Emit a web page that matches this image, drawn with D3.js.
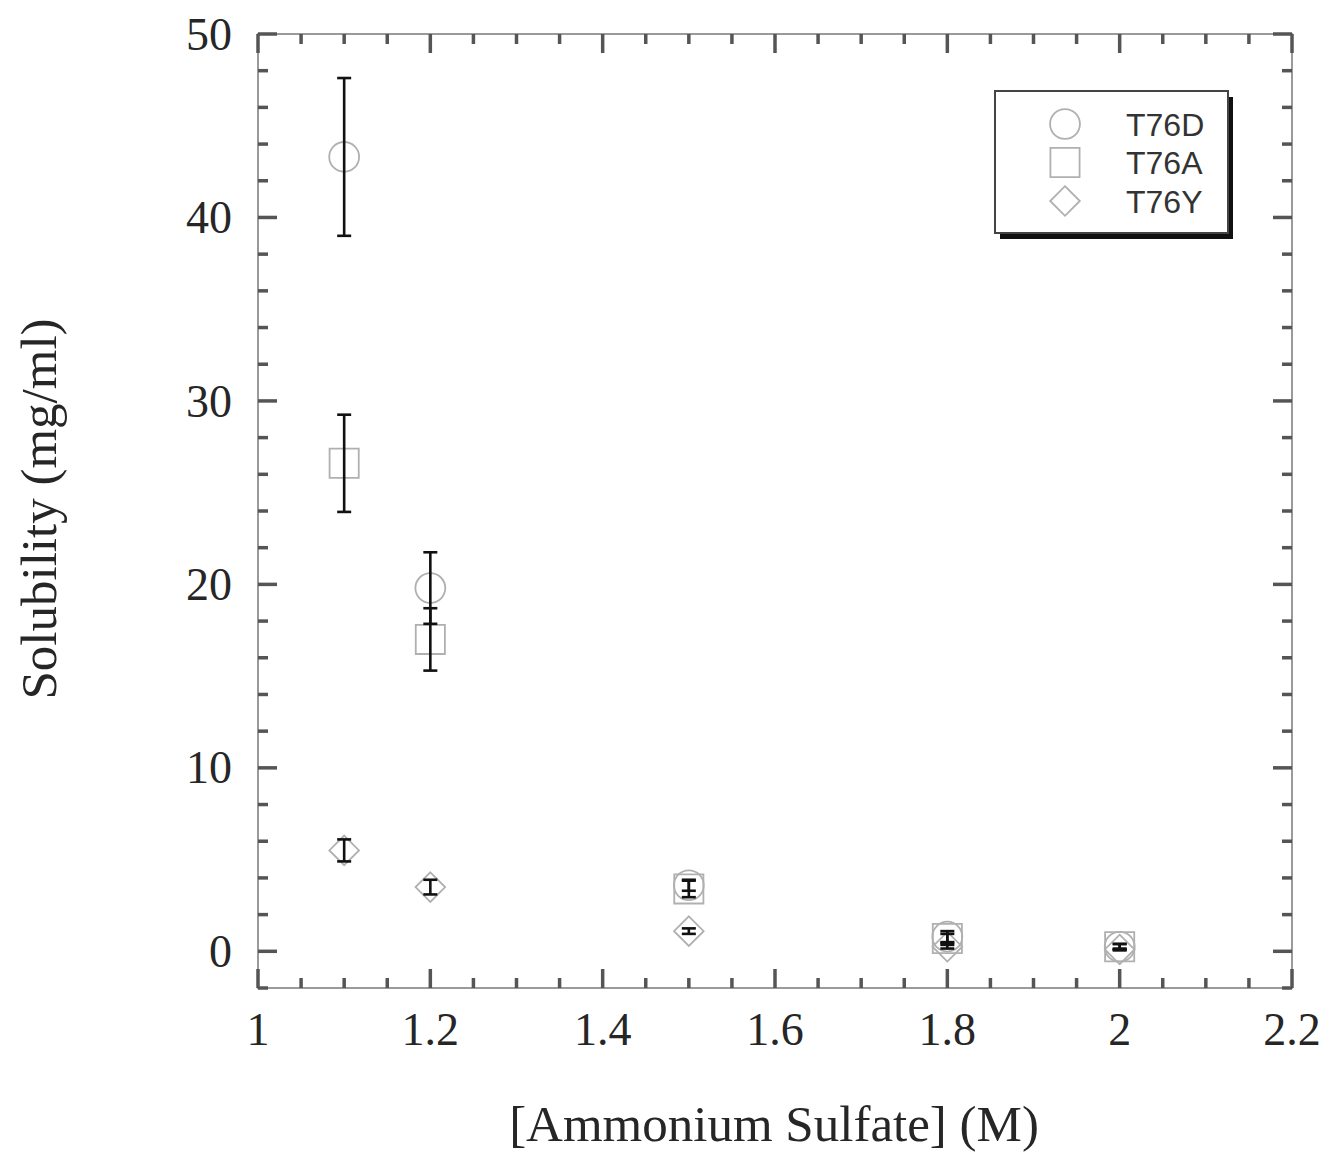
<!DOCTYPE html>
<html>
<head>
<meta charset="utf-8">
<script src="https://cdn.jsdelivr.net/npm/d3@7"></script>
<style>
  body { margin: 0; background: #fff; }
  svg { display: block; }
</style>
</head>
<body>
<div class="chart"></div>
<script>
// salt concentrations (M)
const conc = [1.1, 1.2, 1.5, 1.8, 2.0]

const t76d = [43.3, 19.8, 3.6, 0.8, 0.25]
const t76dErr = [4.3, 1.95, 0.3, 0.3, 0.15]

const t76a = [26.6, 17.0, 3.4, 0.7, 0.25]
const t76aErr = [2.65, 1.7, 0.45, 0.25, 0.15]

const t76y = [5.5, 3.5, 1.1, 0.25, 0.1]
const t76yErr = [0.6, 0.4, 0.15, 0.1, 0.05]

const xTicks = [1, 1.2, 1.4, 1.6, 1.8, 2, 2.2]
const yTicks = [0, 10, 20, 30, 40, 50]

const series = [
  {name: 'T76D', shape: d3.symbolCircle, y: t76d, err: t76dErr},
  {name: 'T76A', shape: d3.symbolSquare, y: t76a, err: t76aErr},
  {name: 'T76Y', shape: d3.symbolDiamond2, y: t76y, err: t76yErr}
]

const width = 1341
const height = 1156
const m = {left: 258, right: 1292, top: 34, bottom: 988}

const svg = d3.select('.chart').append('svg').attr('width', width).attr('height', height)

const x = d3.scaleLinear().domain([1, 2.2]).range([m.left, m.right])
const y = d3.scaleLinear().domain([-2, 50]).range([m.bottom, m.top])

const serif = 'Liberation Serif, Times New Roman, serif'
const axisCol = '#9a9a9a'
const tickCol = '#555'
const textCol = '#262626'

// frame
svg.append('rect')
  .attr('x', m.left).attr('y', m.top)
  .attr('width', m.right - m.left).attr('height', m.bottom - m.top)
  .attr('fill', 'none').attr('stroke', axisCol).attr('stroke-width', 2)

// inward ticks on all four sides
const xMinor = d3.range(1, 2.2001, 0.05)
const yMinor = d3.range(-2, 50.001, 2)

function isMajor(v, step) { return Math.abs(v / step - Math.round(v / step)) < 1e-6 }

const tg = svg.append('g').attr('stroke', tickCol).attr('stroke-width', 3.5)
xMinor.forEach(v => {
  const len = isMajor(v, 0.2) ? 19 : 10
  tg.append('line').attr('x1', x(v)).attr('x2', x(v)).attr('y1', m.bottom).attr('y2', m.bottom - len)
  tg.append('line').attr('x1', x(v)).attr('x2', x(v)).attr('y1', m.top).attr('y2', m.top + len)
})
yMinor.forEach(v => {
  const len = isMajor(v, 10) ? 19 : 10
  tg.append('line').attr('y1', y(v)).attr('y2', y(v)).attr('x1', m.left).attr('x2', m.left + len)
  tg.append('line').attr('y1', y(v)).attr('y2', y(v)).attr('x1', m.right).attr('x2', m.right - len)
})

// tick labels
svg.append('g').selectAll('text').data(xTicks).join('text')
  .attr('x', d => x(d)).attr('y', m.bottom + 57)
  .attr('text-anchor', 'middle')
  .attr('font-family', serif).attr('font-size', 46).attr('fill', textCol)
  .text(d => d)

svg.append('g').selectAll('text').data(yTicks).join('text')
  .attr('x', m.left - 26).attr('y', d => y(d))
  .attr('dy', '0.34em')
  .attr('text-anchor', 'end')
  .attr('font-family', serif).attr('font-size', 46).attr('fill', textCol)
  .text(d => d)

// axis titles
svg.append('text')
  .attr('x', 774).attr('y', 1141)
  .attr('text-anchor', 'middle')
  .attr('font-family', serif).attr('font-size', 51).attr('fill', textCol)
  .text('[Ammonium Sulfate] (M)')

svg.append('text')
  .attr('transform', 'translate(56,509) rotate(-90)')
  .attr('text-anchor', 'middle')
  .attr('font-family', serif).attr('font-size', 51).attr('fill', textCol)
  .text('Solubility (mg/ml)')

// markers
const symSize = {T76D: 700, T76A: 850, T76Y: 560}
series.forEach(s => {
  const pts = conc.map((c, i) => ({x: c, y: s.y[i]}))
  svg.append('g').selectAll('path').data(pts).join('path')
    .attr('transform', d => `translate(${x(d.x)},${y(d.y)})`)
    .attr('d', d3.symbol().type(s.shape).size(symSize[s.name]))
    .attr('fill', 'none').attr('stroke', '#b0b0b0').attr('stroke-width', 1.8)
})

// error bars
const cap = 7
series.forEach(s => {
  const eb = svg.append('g').attr('stroke', '#111').attr('stroke-width', 2.6)
  conc.forEach((c, i) => {
    const x0 = x(c)
    const lo = y(s.y[i] - s.err[i])
    const hi = y(s.y[i] + s.err[i])
    eb.append('line').attr('x1', x0).attr('x2', x0).attr('y1', lo).attr('y2', hi)
    eb.append('line').attr('x1', x0 - cap).attr('x2', x0 + cap).attr('y1', lo).attr('y2', lo)
    eb.append('line').attr('x1', x0 - cap).attr('x2', x0 + cap).attr('y1', hi).attr('y2', hi)
  })
})

// legend
const lg = svg.append('g')
lg.append('rect').attr('x', 1000).attr('y', 97).attr('width', 233).attr('height', 142).attr('fill', '#111')
lg.append('rect').attr('x', 995).attr('y', 91).attr('width', 233).attr('height', 142)
  .attr('fill', '#fff').attr('stroke', '#444').attr('stroke-width', 2)

series.forEach((s, i) => {
  const ly = 124 + i * 38.5
  lg.append('path')
    .attr('transform', `translate(1065,${ly})`)
    .attr('d', d3.symbol().type(s.shape).size(symSize[s.name]))
    .attr('fill', 'none').attr('stroke', '#b0b0b0').attr('stroke-width', 1.8)
  lg.append('text')
    .attr('x', 1126).attr('y', ly).attr('dy', '0.36em')
    .attr('font-family', 'Liberation Sans, Arial, sans-serif').attr('font-size', 32).attr('fill', '#333')
    .text(s.name)
})
</script>
</body>
</html>
